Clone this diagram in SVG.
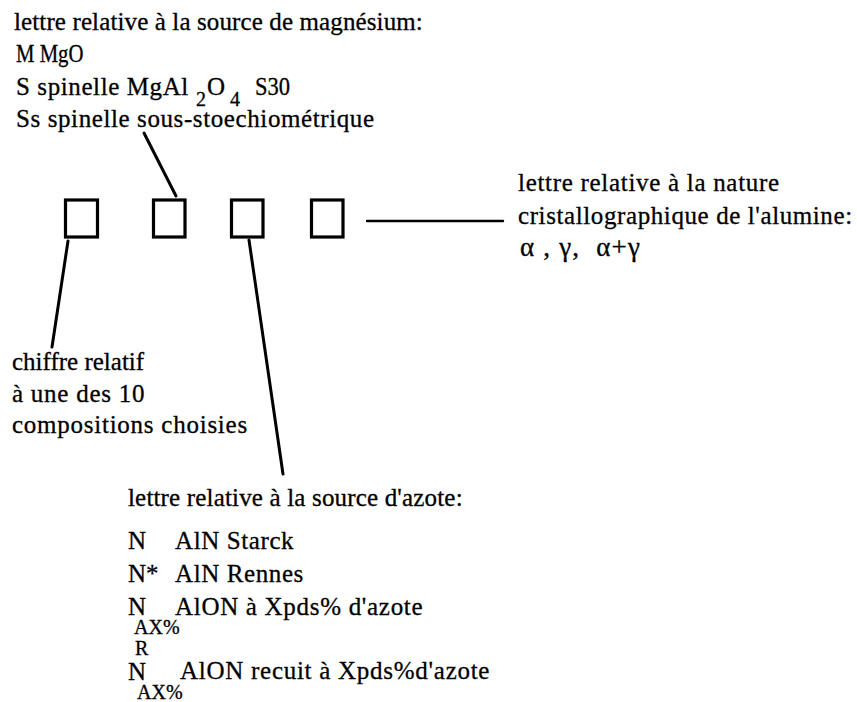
<svg xmlns="http://www.w3.org/2000/svg" width="857" height="702" viewBox="0 0 857 702">
<style>
text{font-family:"Liberation Serif","Times New Roman",serif;font-size:25px;fill:#000;stroke:#000;stroke-width:0.3}
.sub{font-size:20px}
.ls{letter-spacing:0.6px}
.box{fill:none;stroke:#000;stroke-width:3.2}
.conn line{stroke:#000;stroke-width:3;stroke-linecap:round}
</style>
<rect width="857" height="702" fill="#fff"/>
<g id="magnesium-legend">
<text x="14" y="30" style="letter-spacing:0.12px">lettre relative à la source de magnésium:</text>
<text transform="translate(16,62) scale(0.83,1)">M MgO</text>
<text x="16" y="95" class="ls">S spinelle MgAl</text>
<text x="196" y="106" class="sub">2</text>
<text x="207" y="95">O</text>
<text x="230" y="106" class="sub">4</text>
<text transform="translate(255,95) scale(0.9,1)">S30</text>
<text x="16" y="127" class="ls">Ss spinelle sous-stoechiométrique</text>
</g>
<g id="box1"><rect class="box" x="65.5" y="200" width="32" height="37"/></g>
<g id="box2"><rect class="box" x="153.5" y="200" width="31.5" height="37"/></g>
<g id="box3"><rect class="box" x="231.5" y="200" width="31.5" height="37"/></g>
<g id="box4"><rect class="box" x="311.5" y="200" width="31.5" height="37"/></g>
<g class="conn" id="connectors">
<line x1="176" y1="196" x2="144" y2="133"/>
<line x1="68" y1="241" x2="52" y2="347"/>
<line x1="249" y1="240" x2="283" y2="474"/>
<line x1="367" y1="221" x2="503" y2="221" style="stroke-width:2.4"/>
</g>
<g id="alumina-legend">
<text x="518" y="191" style="letter-spacing:0.7px">lettre relative à la nature</text>
<text x="518" y="224" class="ls">cristallographique de l'alumine:</text>
<text x="520" y="256" xml:space="preserve" style="font-size:27px;letter-spacing:1.2px">α , γ,  α+γ</text>
</g>
<g id="composition-legend">
<text x="12" y="370">chiffre relatif</text>
<text x="12" y="402" style="letter-spacing:0.75px">à une des 10</text>
<text x="12" y="433" style="letter-spacing:0.75px">compositions choisies</text>
</g>
<g id="azote-legend">
<text x="128" y="506" style="letter-spacing:0.17px">lettre relative à la source d'azote:</text>
<text x="128" y="549">N</text>
<text x="175" y="549" class="ls">AlN Starck</text>
<text x="128" y="582">N*</text>
<text x="175" y="582" class="ls">AlN Rennes</text>
<text x="128" y="615">N</text>
<text x="175" y="615" style="letter-spacing:0.7px">AlON à Xpds% d'azote</text>
<text x="134" y="634" class="sub">AX%</text>
<text x="135" y="655" class="sub">R</text>
<text x="128" y="680">N</text>
<text x="180" y="679" style="letter-spacing:0.73px">AlON recuit à Xpds%d'azote</text>
<text x="137" y="699" class="sub">AX%</text>
</g>
</svg>
